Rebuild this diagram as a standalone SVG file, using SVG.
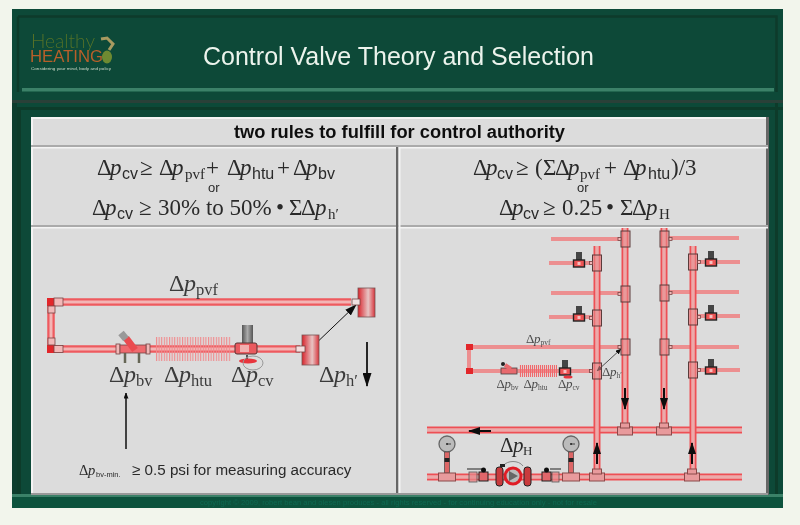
<svg xmlns="http://www.w3.org/2000/svg" width="800" height="525" viewBox="0 0 800 525">
<style>
.s{font-family:"Liberation Serif","Times New Roman",serif;fill:#2a2a2a}
.a{font-family:"Liberation Sans",Arial,sans-serif;fill:#2a2a2a}
.i{font-style:italic}
.eq{font-size:23px}
.eqs{font-size:16px}
.eqp{font-size:15px}
.lb{font-size:24px;fill:#3a3a3a}
.ls{font-size:16.500px;fill:#3a3a3a}
.tb{font-size:13px;fill:#4a4a4a}
.tbs{font-size:7.500px;fill:#4a4a4a}
.po{fill:none;stroke:#ee5a5e;stroke-width:7.500}
.pi{fill:none;stroke:#f3b5b5;stroke-width:3}
.pt{fill:none;stroke:#ee5055;stroke-width:7}
.pti{fill:none;stroke:#ecaaaa;stroke-width:3.500}
.br{fill:none;stroke:#ec8f90;stroke-width:4}
.br2{fill:none;stroke:#ec6f72;stroke-width:4}
.tee{fill:#e88a8c;fill-opacity:.55;stroke:#5a3a3a;stroke-width:1}
.bt{fill:#e89a9c;stroke:#8a4a4a;stroke-width:1}
.fit{fill:#f2b8b8;stroke:#774444;stroke-width:.8}
.ar{stroke:#111;fill:none}
</style>
<defs>
<filter id="soft" x="0" y="0" width="100%" height="100%"><feGaussianBlur stdDeviation="0.45"/></filter>
<linearGradient id="teeg" x1="0" x2="1" y1="0" y2="0"><stop offset="0" stop-color="#d8242c"/><stop offset=".6" stop-color="#e8c4c4"/><stop offset="1" stop-color="#d8343c"/></linearGradient>
<linearGradient id="actg" x1="0" x2="1" y1="0" y2="0"><stop offset="0" stop-color="#555"/><stop offset=".5" stop-color="#aaa"/><stop offset="1" stop-color="#555"/></linearGradient>
<pattern id="hatch" width="2.600" height="30" patternUnits="userSpaceOnUse"><rect width="1.100" height="30" fill="#f08a8d"/></pattern>
<pattern id="hatch2" width="2" height="30" patternUnits="userSpaceOnUse"><rect width="1.100" height="30" fill="#f0686c"/></pattern>
<marker id="mBig" viewBox="0 0 14 9" refX="13" refY="4.500" markerWidth="14" markerHeight="9" markerUnits="userSpaceOnUse" orient="auto-start-reverse"><path d="M0 0L14 4.500L0 9z" fill="#111"/></marker>
<marker id="mMed" viewBox="0 0 12 8" refX="11" refY="4" markerWidth="12" markerHeight="8" markerUnits="userSpaceOnUse" orient="auto-start-reverse"><path d="M0 0L12 4L0 8z" fill="#111"/></marker>
<marker id="mSm" viewBox="0 0 6 5" refX="5.500" refY="2.500" markerWidth="6" markerHeight="5" markerUnits="userSpaceOnUse" orient="auto-start-reverse"><path d="M0 0L6 2.500L0 5z" fill="#111"/></marker>
<path id="leftPipes" d="M351 302H51V349H300"/>
<path id="verticals" d="M597 246V470M625 228V424M664 228V424M693 246V470"/>
<path id="mains" d="M427 430H742M427 477H742"/>
<g id="miniValve">
<rect x="-3" y="-11" width="6" height="9" fill="#444"/>
<rect x="-5.500" y="-3" width="11" height="7" fill="#e55" stroke="#222" stroke-width="1.400"/>
<rect x="-1.500" y="-1" width="3" height="3" fill="#f5c0c0"/>
</g>
<g id="teeV"><rect x="-4.500" y="-8" width="9" height="16" class="tee"/><rect x="-7.500" y="-1.500" width="3" height="3" class="fit"/></g>
<g id="teeVR"><rect x="-4.500" y="-8" width="9" height="16" class="tee"/><rect x="4.500" y="-1.500" width="3" height="3" class="fit"/></g>
<g id="bottomTee"><rect x="-7.500" y="-3" width="15" height="8" class="bt"/><rect x="-4.500" y="-7" width="9" height="5" class="bt"/></g>
<g id="gauge"><circle r="8" fill="#bbb" stroke="#666" stroke-width="1.300"/><circle r="1" fill="#222"/><path d="M0 0H4" stroke="#222" stroke-width=".8"/><rect x="-2.500" y="8" width="5" height="21" fill="#d66" stroke="#444" stroke-width=".7"/><rect x="-2.500" y="14" width="5" height="4" fill="#222"/><rect x="-8.500" y="29" width="17" height="8" class="bt"/></g>
</defs>
<rect width="800" height="525" fill="#f2f5ec"/>
<g filter="url(#soft)">
<g id="frame">
<rect x="12" y="9" width="771" height="499" fill="#0a4a38"/>
<path d="M18 16.500H776.500V92" fill="none" stroke="#0b3a2c" stroke-width="2.500"/>
<path d="M18 16.500V92" fill="none" stroke="#0b3a2c" stroke-width="2.500"/>
<rect x="22" y="88" width="752" height="3.500" fill="#3b8168"/>
<rect x="12" y="100" width="771" height="3" fill="#2c3f38"/>
<rect x="12" y="107" width="771" height="3" fill="#0b3a2c"/>
<rect x="12" y="103" width="5" height="405" fill="#0a3c2e"/>
<rect x="775" y="103" width="3" height="392" fill="#0a3a2c"/>
<rect x="17" y="110" width="4" height="385" fill="#0b3a2c"/>
<rect x="12" y="494" width="771" height="3" fill="#3b8168"/>
<rect x="12" y="497" width="771" height="11" fill="#08523e"/>
</g>
<g id="logo">
<text x="31" y="48" font-family="Lato,Liberation Sans,sans-serif" font-size="20" font-weight="300" fill="#557029" textLength="64" lengthAdjust="spacingAndGlyphs">Healthy</text>
<text x="30" y="62" font-family="Liberation Sans,Arial,sans-serif" font-size="16" fill="#b85f2a" textLength="73" lengthAdjust="spacingAndGlyphs">HEATING</text>
<text x="31" y="69.500" font-family="Liberation Sans,Arial,sans-serif" font-size="4" fill="#cfd8c8" textLength="80" lengthAdjust="spacingAndGlyphs">Considering your mind, body and policy</text>
<ellipse cx="107" cy="57" rx="5" ry="6.500" fill="#6e8a30"/>
<path d="M101 39L107 38L113 44L109 50" fill="none" stroke="#a89a60" stroke-width="3"/>
</g>
<text id="title" x="203" y="65" font-family="Liberation Sans,Arial,sans-serif" font-size="25" fill="#ecf3ec">Control Valve Theory and Selection</text>
<text id="footer" x="200" y="505" font-family="Liberation Sans,Arial,sans-serif" font-size="8" fill="#0f6a50" textLength="397" lengthAdjust="spacingAndGlyphs">copyright © 2009, robert bean and olesen produces - all rights reserved - for continuing education only - not for resale</text>
<g id="panel">
<rect x="31" y="117" width="737" height="378" fill="#dcdcdc"/>
<rect x="31" y="117" width="737" height="2" fill="#f4f4f4"/>
<rect x="31" y="117" width="2" height="378" fill="#f4f4f4"/>
<rect x="766" y="117" width="3" height="378" fill="#666"/>
<rect x="31" y="145" width="737" height="2" fill="#aaa"/>
<rect x="31" y="147" width="737" height="1.500" fill="#f4f4f4"/>
<rect x="31" y="225" width="737" height="2" fill="#aaa"/>
<rect x="31" y="227" width="737" height="1.500" fill="#f4f4f4"/>
<rect x="396" y="147" width="2.500" height="346" fill="#666"/>
<rect x="398.500" y="147" width="2" height="346" fill="#f4f4f4"/>
<rect x="31" y="493" width="737" height="2" fill="#999"/>
</g>
<text id="heading" x="399.500" y="138" text-anchor="middle" font-family="Liberation Sans,Arial,sans-serif" font-size="18.300" font-weight="bold" fill="#111">two rules to fulfill for control authority</text>
<g id="eq-left">
<text class="s eq" y="175"><tspan x="97">Δ</tspan><tspan x="110" class="i">p</tspan><tspan x="122" class="a eqs" dy="4">cv</tspan><tspan x="140" dy="-4">≥</tspan><tspan x="159">Δ</tspan><tspan x="172" class="i">p</tspan><tspan x="185" class="eqp" dy="4">pvf</tspan><tspan x="206" dy="-4">+</tspan><tspan x="227">Δ</tspan><tspan x="240" class="i">p</tspan><tspan x="252" class="a eqs" dy="4">htu</tspan><tspan x="277" dy="-4">+</tspan><tspan x="293">Δ</tspan><tspan x="306" class="i">p</tspan><tspan x="318" class="a eqs" dy="4">bv</tspan></text>
<text class="a" x="208" y="192" font-size="13">or</text>
<text class="s eq" y="215"><tspan x="92">Δ</tspan><tspan x="105" class="i">p</tspan><tspan x="117" class="a eqs" dy="4">cv</tspan><tspan x="139" dy="-4">≥</tspan><tspan x="158">30% to 50%</tspan><tspan x="276">•</tspan><tspan x="289">Σ</tspan><tspan x="301">Δ</tspan><tspan x="315" class="i">p</tspan><tspan x="328" class="eqp" dy="4">h′</tspan></text>
</g>
<g id="eq-right">
<text class="s eq" y="175"><tspan x="473">Δ</tspan><tspan x="486" class="i">p</tspan><tspan x="497" class="a eqs" dy="4">cv</tspan><tspan x="516" dy="-4">≥</tspan><tspan x="535">(</tspan><tspan x="543">Σ</tspan><tspan x="555">Δ</tspan><tspan x="568" class="i">p</tspan><tspan x="580" class="eqp" dy="4">pvf</tspan><tspan x="604" dy="-4">+</tspan><tspan x="623">Δ</tspan><tspan x="635" class="i">p</tspan><tspan x="648" class="a eqs" dy="4">htu</tspan><tspan x="671" dy="-4">)/3</tspan></text>
<text class="a" x="577" y="192" font-size="13">or</text>
<text class="s eq" y="215"><tspan x="499">Δ</tspan><tspan x="512" class="i">p</tspan><tspan x="523" class="a eqs" dy="4">cv</tspan><tspan x="543" dy="-4">≥</tspan><tspan x="562">0.25</tspan><tspan x="606">•</tspan><tspan x="620">Σ</tspan><tspan x="632">Δ</tspan><tspan x="646" class="i">p</tspan><tspan x="659" class="eqp" dy="4">H</tspan></text>
</g>
<g id="connectors">
<use href="#leftPipes" class="po"/>
<use href="#leftPipes" class="pi"/>
<path d="M551 239H621M551 293H621M669 238H739M669 292H739" class="br"/>
<path d="M549 263H592M549 317H592M697 262H740M697 316H740M697 370H740M669 347H739" class="br"/>
<path d="M469 347H621M469 371H592M469 347V371" class="br"/>
<use href="#mains" class="pt"/>
<use href="#mains" class="pti"/>
<use href="#verticals" class="pt"/>
<use href="#verticals" class="pti"/>
<path d="M356 305L309 350" class="ar" stroke-width="1" marker-start="url(#mMed)" marker-end="url(#mMed)"/>
<path d="M367 342V386" class="ar" stroke-width="1.800" marker-end="url(#mBig)"/>
<path d="M126 449V393" class="ar" stroke-width="1.500" marker-end="url(#mSm)"/>
<path d="M597 371L621 349" class="ar" stroke-width=".7" marker-start="url(#mSm)" marker-end="url(#mSm)"/>
<path d="M625 388V409" class="ar" stroke-width="2" marker-end="url(#mMed)"/>
<path d="M664 388V409" class="ar" stroke-width="2" marker-end="url(#mMed)"/>
<path d="M597 464V443" class="ar" stroke-width="2" marker-end="url(#mMed)"/>
<path d="M692 464V443" class="ar" stroke-width="2" marker-end="url(#mMed)"/>
<path d="M491 431H469" class="ar" stroke-width="2" marker-end="url(#mMed)"/>
</g>
<g id="left-elbows">
<rect x="47" y="298" width="8" height="8" fill="#e2262c"/><rect x="54" y="298" width="9" height="8" class="fit"/><rect x="48" y="306" width="7" height="7" class="fit"/>
<rect x="47" y="345" width="8" height="8" fill="#e2262c"/><rect x="54" y="345.500" width="9" height="7" class="fit"/><rect x="48" y="338" width="7" height="7" class="fit"/>
</g>
<g id="tee-upper"><rect x="358" y="288" width="17" height="29" fill="url(#teeg)" stroke="#775555" stroke-width=".8"/><rect x="352" y="299" width="8" height="6" fill="#f0e0e0" stroke="#774444" stroke-width=".8"/></g>
<g id="tee-lower"><rect x="302" y="335" width="17" height="30" fill="url(#teeg)" stroke="#775555" stroke-width=".8"/><rect x="296" y="346" width="9" height="6" fill="#f5dede" stroke="#774444" stroke-width=".8"/></g>
<g id="htu"><rect x="155" y="337" width="76" height="24" fill="url(#hatch)"/></g>
<g id="balance-valve">
<rect x="116" y="344" width="4" height="10" class="fit"/><rect x="146" y="344" width="4" height="10" class="fit"/>
<rect x="120" y="345" width="26" height="8" fill="#ef6a6e" stroke="#774444" stroke-width=".8"/>
<path d="M135 350L126 338" stroke="#ea4c50" stroke-width="7"/>
<path d="M126 339L121 333" stroke="#999" stroke-width="7"/>
<path d="M125 353V363M139 353V363" stroke="#665" stroke-width="2.500"/>
</g>
<g id="control-valve">
<rect x="242" y="325" width="11" height="18" fill="url(#actg)"/>
<rect x="235" y="343" width="22" height="11" rx="2" fill="#ea5a5e" stroke="#553333"/>
<rect x="240" y="345" width="9" height="7" fill="#f2b0b0"/>
<path d="M247 355V359" stroke="#222" stroke-width="1.500"/>
<ellipse cx="248" cy="361" rx="9" ry="2.500" fill="#e8343c"/>
<ellipse cx="253" cy="363" rx="10" ry="7" fill="none" stroke="#999" stroke-width="1"/>
</g>
<g id="left-labels">
<text class="s lb" y="291"><tspan x="169">Δ</tspan><tspan x="184" class="i">p</tspan><tspan x="196" class="ls" dy="4">pvf</tspan></text>
<text class="s lb" y="382"><tspan x="109">Δ</tspan><tspan x="124" class="i">p</tspan><tspan x="136" class="ls" dy="4">bv</tspan></text>
<text class="s lb" y="382"><tspan x="164">Δ</tspan><tspan x="179" class="i">p</tspan><tspan x="191" class="ls" dy="4">htu</tspan></text>
<text class="s lb" y="382"><tspan x="231">Δ</tspan><tspan x="246" class="i">p</tspan><tspan x="258" class="ls" dy="4">cv</tspan></text>
<text class="s lb" y="382"><tspan x="319">Δ</tspan><tspan x="334" class="i">p</tspan><tspan x="346" class="ls" dy="4">h′</tspan></text>
<text y="475" class="s" font-size="14.500" fill="#333"><tspan x="79">Δ</tspan><tspan x="88" class="i">p</tspan><tspan x="96" class="a" font-size="7.500" dy="2">bv-min.</tspan><tspan x="132" class="a" font-size="15.200" dy="-2">≥ 0.5 psi for measuring accuracy</tspan></text>
</g>
<g id="tees-right">
<use href="#teeV" x="625.500" y="239"/><use href="#teeV" x="625.500" y="294"/><use href="#teeV" x="625.500" y="347"/>
<use href="#teeV" x="597" y="263"/><use href="#teeV" x="597" y="318"/><use href="#teeV" x="597" y="371"/>
<use href="#teeVR" x="664.500" y="239"/><use href="#teeVR" x="664.500" y="293"/><use href="#teeVR" x="664.500" y="347"/>
<use href="#teeVR" x="693" y="262"/><use href="#teeVR" x="693" y="317"/><use href="#teeVR" x="693" y="370"/>
</g>
<g id="valves-right">
<use href="#miniValve" x="579" y="263"/><use href="#miniValve" x="579" y="317"/><use href="#miniValve" x="565" y="371"/>
<use href="#miniValve" x="711" y="262"/><use href="#miniValve" x="711" y="316"/><use href="#miniValve" x="711" y="370"/>
</g>
<g id="mini-circuit">
<rect x="466" y="344" width="7" height="6" fill="#e2262c"/><rect x="466" y="368" width="7" height="6" fill="#e2262c"/>
<rect x="519" y="365" width="38" height="12" fill="url(#hatch2)"/>
<rect x="501" y="368" width="16" height="6" fill="#e86a6e" stroke="#444" stroke-width=".8"/>
<circle cx="503" cy="364" r="2" fill="#222"/>
<path d="M505 365L511 369" stroke="#e86a6e" stroke-width="4"/>
<ellipse cx="568" cy="377" rx="4.500" ry="1.500" fill="#e8343c"/>
</g>
<g id="right-labels">
<text class="s tb" y="343"><tspan x="526">Δ</tspan><tspan x="534" class="i">p</tspan><tspan x="540.500" class="tbs" dy="2">pvf</tspan></text>
<text class="s tb" y="376"><tspan x="602">Δ</tspan><tspan x="610" class="i">p</tspan><tspan x="616.500" class="tbs" dy="2">h′</tspan></text>
<text class="s tb" y="388"><tspan x="496.500">Δ</tspan><tspan x="504.500" class="i">p</tspan><tspan x="511" class="tbs" dy="2">bv</tspan></text>
<text class="s tb" y="388"><tspan x="523.500">Δ</tspan><tspan x="531.500" class="i">p</tspan><tspan x="538" class="tbs" dy="2">htu</tspan></text>
<text class="s tb" y="388"><tspan x="558">Δ</tspan><tspan x="566" class="i">p</tspan><tspan x="572.500" class="tbs" dy="2">cv</tspan></text>
<text class="s" y="452" font-size="21" fill="#444"><tspan x="500">Δ</tspan><tspan x="513" class="i">p</tspan><tspan x="523" font-size="13" dy="3">H</tspan></text>
</g>
<g id="gauges"><use href="#gauge" x="447" y="444"/><use href="#gauge" x="571" y="444"/></g>
<g id="bottom-tees">
<use href="#bottomTee" x="597" y="476"/><use href="#bottomTee" x="692" y="476"/>
<use href="#bottomTee" x="625" y="430"/><use href="#bottomTee" x="664" y="430"/>
</g>
<g id="pump">
<path d="M467 469H485M550 469H561" stroke="#222" stroke-width="1"/>
<rect x="469" y="472" width="8" height="10" fill="#e8898b" fill-opacity=".7" stroke="#555" stroke-width=".8"/>
<rect x="552" y="472" width="7" height="10" fill="#e8898b" fill-opacity=".7" stroke="#555" stroke-width=".8"/>
<rect x="479" y="472" width="9" height="9" fill="#e0666a" stroke="#222"/>
<rect x="542" y="472" width="9" height="9" fill="#e0666a" stroke="#222"/>
<circle cx="483.500" cy="470" r="2.500" fill="#111"/><circle cx="546.500" cy="470" r="2.500" fill="#111"/>
<rect x="496" y="467" width="7" height="19" rx="3" fill="#c93a3e" stroke="#222"/>
<rect x="524" y="467" width="7" height="19" rx="3" fill="#c93a3e" stroke="#222"/>
<path d="M503 466C507 460 519 460 523 466" fill="none" stroke="#888"/>
<rect x="500" y="464" width="5" height="3" fill="#222"/>
<circle cx="513" cy="476" r="9.500" fill="#e01f26"/>
<circle cx="513" cy="476" r="6.500" fill="#bbb"/>
<path d="M509 471L518 476L509 481z" fill="#666"/>
</g>
</g>
</svg>
